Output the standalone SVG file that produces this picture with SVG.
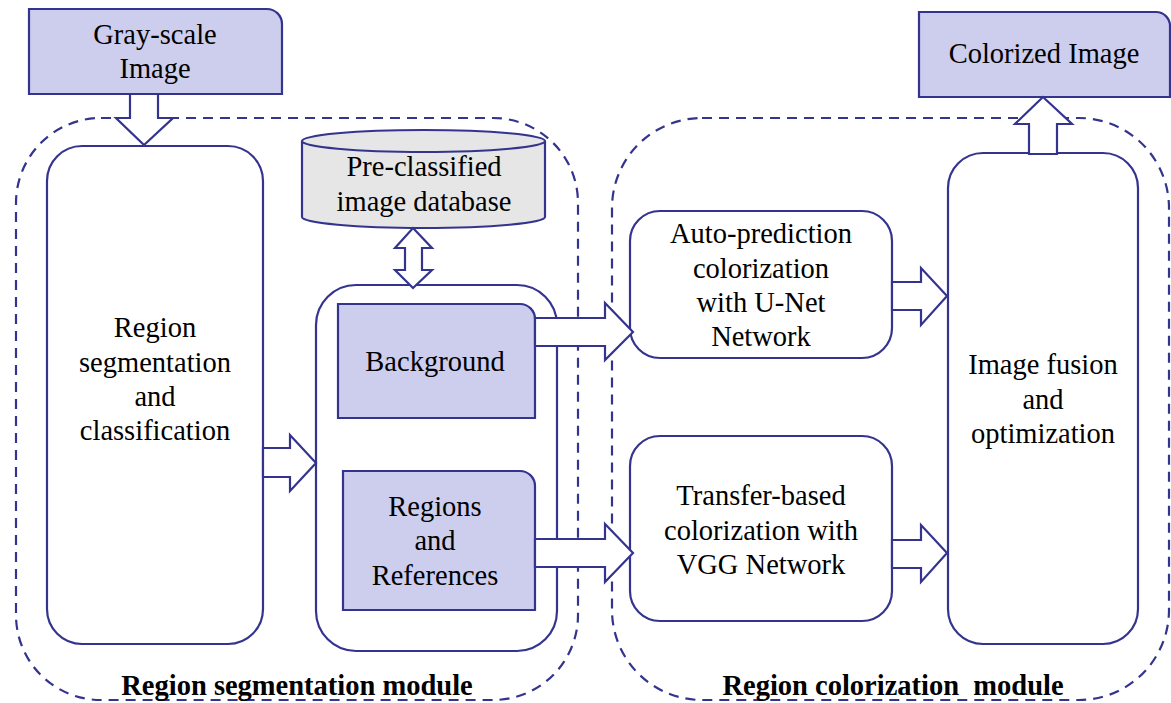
<svg xmlns="http://www.w3.org/2000/svg" width="1171" height="703" viewBox="0 0 1171 703">
<style>
.n{fill:#ffffff;stroke:#34348f;stroke-width:2.2}
.f{fill:#cdcdee;stroke:#34348f;stroke-width:2.2}
.db{fill:#e6e6e6;stroke:#34348f;stroke-width:2.2}
.d{fill:none;stroke:#34348f;stroke-width:2.2;stroke-dasharray:10 7}
.a{fill:#ffffff;stroke:#34348f;stroke-width:2.2;stroke-linejoin:miter}
text{font-family:"Liberation Serif","Times New Roman",serif;font-size:28.5px;fill:#000;text-anchor:middle}
.b{font-weight:bold;font-size:28.5px;white-space:pre}
</style>
<rect width="1171" height="703" fill="#ffffff"/>
<g id="module-segmentation">
<rect class="d" x="16" y="118" width="562" height="582" rx="85" ry="85"/>
<text class="b" x="297" y="695">Region segmentation module</text>
</g>
<g id="module-colorization">
<rect class="d" x="612" y="118" width="557" height="582" rx="90" ry="90"/>
<text class="b" x="893" y="695" xml:space="preserve">Region colorization  module</text>
</g>
<g id="grayscale">
<path class="f" d="M29,9 H267 A15,15 0 0 1 282,24 V94 H29 Z"/>
<text x="155" y="44">Gray-scale</text>
<text x="155" y="78">Image</text>
</g>
<g id="colorized">
<path class="f" d="M919,12 H1156 A14,14 0 0 1 1170,26 V97 H919 Z"/>
<text x="1044" y="63">Colorized Image</text>
</g>
<g id="segmentation">
<rect class="n" x="47" y="146" width="216" height="498" rx="35" ry="35"/>
<text x="155" y="337">Region</text>
<text x="155" y="372">segmentation</text>
<text x="155" y="406">and</text>
<text x="155" y="440">classification</text>
</g>
<g id="database">
<path class="db" d="M302,141 V217 A121.5,11 0 0 0 545,217 V141"/>
<ellipse class="db" cx="423.5" cy="141" rx="121.5" ry="11"/>
<text x="424" y="176">Pre-classified</text>
<text x="424" y="211">image database</text>
</g>
<g id="container">
<rect class="n" x="316" y="285" width="241" height="366" rx="40" ry="40"/>
</g>
<g id="background">
<path class="f" d="M338,304 H520 A15,15 0 0 1 535,319 V418 H338 Z"/>
<text x="435" y="371">Background</text>
</g>
<g id="regions">
<path class="f" d="M343,471 H520 A15,15 0 0 1 535,486 V610 H343 Z"/>
<text x="435" y="516">Regions</text>
<text x="435" y="550">and</text>
<text x="435" y="585">References</text>
</g>
<g id="auto">
<rect class="n" x="630" y="211" width="262" height="147" rx="30" ry="30"/>
<text x="761" y="243">Auto-prediction</text>
<text x="761" y="278">colorization</text>
<text x="761" y="312">with U-Net</text>
<text x="761" y="346">Network</text>
</g>
<g id="transfer">
<rect class="n" x="630" y="436" width="262" height="185" rx="30" ry="30"/>
<text x="761" y="505">Transfer-based</text>
<text x="761" y="540">colorization with</text>
<text x="761" y="574">VGG Network</text>
</g>
<g id="fusion">
<rect class="n" x="948" y="153" width="190" height="491" rx="35" ry="35"/>
<text x="1043" y="374">Image fusion</text>
<text x="1043" y="409">and</text>
<text x="1043" y="443">optimization</text>
</g>
<g id="connectors">
<polygon class="a" points="130,94 158,94 158,118 173,118 144,145 116,118 130,118"/>
<polygon class="a" points="413,228 432,248 422,248 422,270 432,270 413,288 395,270 405,270 405,248 395,248"/>
<polygon class="a" points="263,448 290,448 290,435 316,463 290,491 290,477 263,477"/>
<polygon class="a" points="535,318 605,318 605,303 633,332 605,360 605,346 535,346"/>
<polygon class="a" points="535,539 605,539 605,524 633,553 605,582 605,567 535,567"/>
<polygon class="a" points="892,282 921,282 921,268 947,296 921,325 921,310 892,310"/>
<polygon class="a" points="892,540 921,540 921,525 947,553 921,582 921,568 892,568"/>
<polygon class="a" points="1043,97 1072,124 1057,124 1057,154 1029,154 1029,124 1015,124"/>
</g>
</svg>
